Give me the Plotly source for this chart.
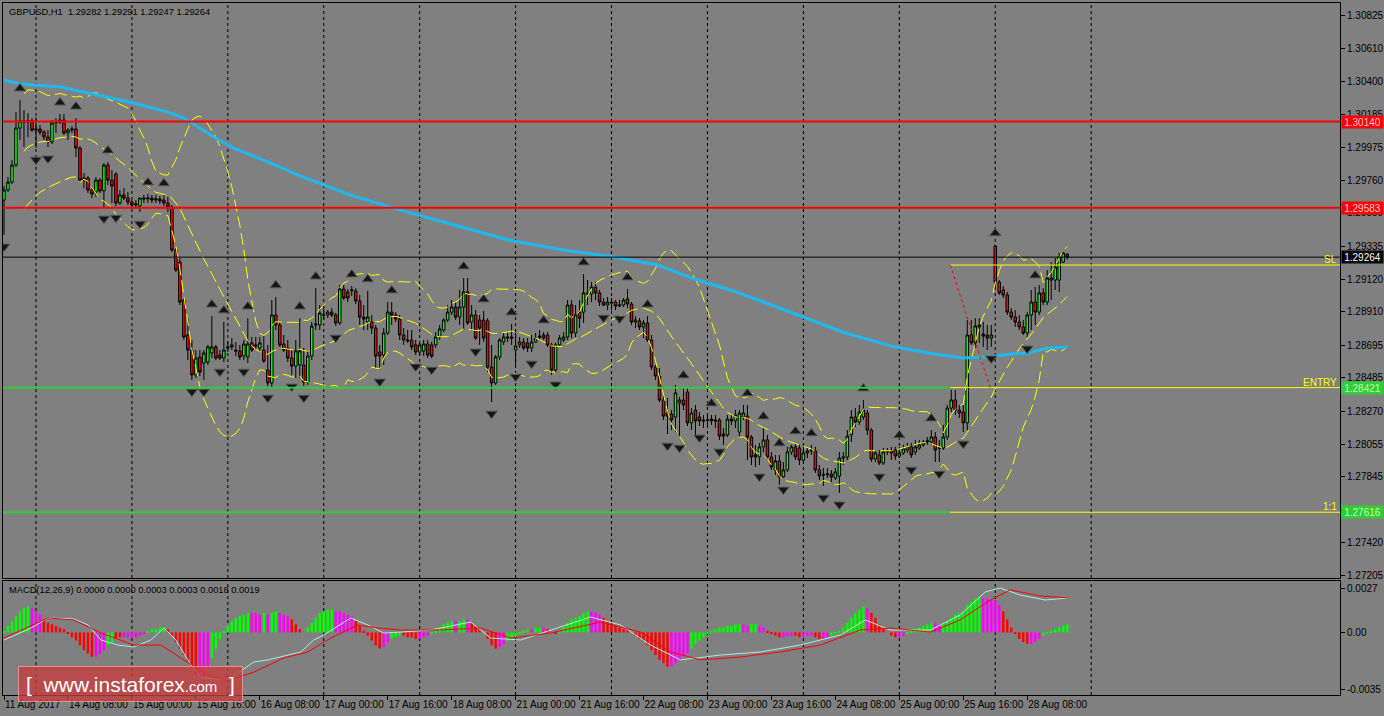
import numpy as np
import pandas as pd
import plotly.graph_objects as go

# ---------------- DATA (prices in points, 1e-5) ----------------
open_pts = [
129633,129698,129749,129859,130098,130144,130137,130144,130085,130092,
130072,130040,130008,130131,130137,130150,130066,130085,130092,129969,
129762,129775,129698,129685,129762,129692,129859,129762,129801,129614,
129666,129646,129620,129601,129594,129646,129640,129646,129633,129640,
129633,129614,129588,129310,129232,128987,128761,128664,128503,128619,
128580,128586,128645,128684,128632,128612,128677,128684,128664,128658,
128625,128619,128710,128697,128677,128664,128535,128451,128890,128826,
128703,128677,128612,128560,128567,128567,128457,128625,128826,128826,
128890,128890,128909,128890,128839,129058,129039,129046,129046,128981,
128877,128845,128845,128806,128651,128632,128774,128909,128890,128864,
128761,128729,128729,128697,128651,128658,128703,128697,128697,128748,
128793,128858,128909,128942,128877,128942,129039,128845,128890,128858,
128858,128852,128554,128451,128619,128716,128741,128748,128664,128697,
128716,128710,128677,128716,128754,128761,128761,128697,128535,128697,
128729,128748,128955,128774,128909,128909,129033,129026,129071,129033,
128974,128955,128974,128974,128948,128955,128994,128961,128845,128852,
128813,128839,128729,128554,128496,128341,128257,128250,128231,128322,
128341,128393,128193,128276,128231,128212,128212,128218,128212,128212,
128121,128115,128218,128206,128134,128231,128237,128102,127986,127973,
128038,128083,127973,127889,127947,127844,127889,128005,128038,128031,
127953,127999,128012,128012,127889,127857,127857,127863,127837,127850,
127966,127973,128115,128231,128199,128231,128257,128147,127960,127986,
127934,128005,128012,128018,127979,127999,128018,128038,128005,128031,
128051,128070,128070,128102,128031,128031,128102,128289,128341,128276,
128263,128193,128761,128710,128813,128767,128761,128741,129336,129103,
129052,129020,128909,128877,128845,128813,128774,128890,128974,128909,
129033,128974,129116,129116,129116,129232,129282]

high_pts = [
129723,129782,129891,130201,130279,130214,130195,130162,130169,130118,
130085,130085,130150,130162,130188,130188,130098,130111,130162,129982,
129808,129788,129717,129782,129775,129872,129878,129827,129814,129698,
129710,129685,129633,129633,129646,129666,129672,129666,129666,129659,
129666,129653,129601,129323,129258,129000,128870,128729,128664,128664,
128664,128697,128883,128697,128664,128845,128716,128741,128716,128697,
128729,128870,128748,128748,128748,128754,128697,128987,129007,128845,
128761,128729,128664,128729,128870,128677,128664,128845,129064,128955,
128955,128922,128935,128903,129084,129084,129058,129077,129064,129020,
128955,129046,128890,128826,128697,128806,128974,128974,128909,128890,
128806,128793,128793,128729,128710,128729,128729,128716,128780,128826,
128870,128955,128987,128974,129052,129129,129129,128955,128922,128890,
128916,128870,128697,128632,128741,128774,128780,128832,128774,128748,
128741,128741,128761,128774,128793,128780,128780,128710,128710,128761,
128780,128987,128987,128955,128987,129155,129116,129103,129103,129052,
129000,129007,129000,128987,128987,129000,129058,128974,128883,128870,
128858,128883,128761,128567,128547,128373,128354,128276,128438,128361,
128425,128418,128289,128309,128263,128244,128257,128244,128244,128224,
128160,128244,128244,128276,128276,128309,128309,128115,128051,128064,
128160,128115,128005,127986,127986,127940,128038,128051,128064,128051,
128038,128038,128051,128038,127921,127902,127902,127889,127902,128005,
128005,128147,128276,128289,128309,128341,128276,128160,128018,128018,
128031,128031,128038,128038,128038,128051,128064,128064,128083,128083,
128083,128102,128147,128134,128083,128180,128309,128406,128406,128309,
128309,128858,128858,128870,128870,128845,128826,128826,129343,129116,
129077,129039,128935,128922,128890,128858,128909,129052,129071,129084,
129064,129181,129232,129258,129291,129297,129291]

low_pts = [
129407,129685,129736,129846,130021,129976,130040,130072,129969,130053,
130021,129976,129995,130066,130124,130053,130021,130066,129911,129749,
129710,129679,129646,129653,129679,129588,129730,129614,129594,129601,
129633,129601,129588,129581,129555,129614,129614,129614,129614,129607,
129594,129555,129297,129168,128955,128729,128599,128470,128483,128496,
128470,128567,128612,128599,128599,128586,128651,128664,128625,128599,
128599,128580,128651,128664,128651,128580,128431,128425,128793,128684,
128651,128586,128503,128483,128483,128431,128438,128599,128793,128793,
128858,128870,128877,128819,128826,128987,128974,129013,128961,128826,
128793,128793,128767,128547,128535,128567,128761,128826,128845,128729,
128697,128710,128664,128632,128632,128625,128612,128612,128677,128729,
128780,128845,128890,128858,128826,128793,128826,128793,128729,128697,
128716,128522,128328,128438,128599,128697,128716,128697,128567,128677,
128664,128651,128651,128710,128729,128729,128684,128503,128516,128684,
128716,128729,128741,128748,128806,128839,128955,128974,128987,128948,
128948,128922,128922,128922,128942,128942,128935,128826,128806,128793,
128741,128716,128535,128470,128328,128212,128121,128147,128134,128108,
128276,128173,128147,128115,128173,128160,128180,128180,128160,128083,
128051,128102,128180,128160,128102,128212,127953,127921,127908,127921,
128005,127953,127889,127857,127792,127837,127876,127986,127953,127921,
127934,127966,127986,127870,127824,127785,127837,127811,127824,127741,
127921,127953,128070,128167,128180,128212,128115,127940,127940,127921,
127921,127986,127953,127953,127966,127986,127999,127966,127986,128018,
128038,128051,128051,127940,127940,128018,128083,128263,128244,128224,
128134,128147,128697,128677,128710,128684,128664,128684,129064,129020,
129000,128890,128858,128813,128793,128761,128748,128793,128826,128890,
128955,128955,128987,129052,129039,129226,129247]

close_pts = [
129698,129749,129859,130098,130144,130137,130144,130085,130092,130072,
130040,130008,130131,130137,130150,130066,130085,130092,129969,129762,
129775,129698,129672,129762,129692,129859,129762,129723,129614,129666,
129646,129620,129601,129607,129646,129640,129646,129633,129640,129627,
129614,129588,129310,129181,128974,128748,128664,128503,128612,128522,
128645,128684,128684,128612,128612,128664,128684,128697,128658,128619,
128703,128703,128664,128690,128710,128593,128451,128890,128826,128697,
128664,128612,128560,128658,128658,128457,128625,128819,128832,128903,
128890,128909,128890,128839,129058,129000,129000,129052,128981,128877,
128864,128877,128806,128625,128625,128774,128909,128890,128864,128761,
128729,128723,128684,128651,128697,128703,128632,128625,128748,128800,
128858,128909,128942,128877,128942,129039,128839,128890,128741,128806,
128741,128554,128451,128619,128729,128748,128748,128741,128690,128716,
128677,128677,128716,128741,128748,128741,128697,128535,128697,128741,
128748,128955,128774,128890,128870,129033,129026,129071,129033,128974,
128955,128974,128968,128948,128955,128987,128961,128845,128858,128813,
128839,128729,128554,128496,128341,128237,128237,128212,128387,128341,
128309,128193,128257,128206,128206,128206,128212,128206,128206,128108,
128108,128218,128206,128244,128257,128257,128102,127973,127973,128038,
128083,127973,127908,127947,127844,127889,128005,128038,127973,127953,
127999,128012,128018,127889,127850,127857,127863,127844,127876,127966,
127973,128108,128231,128199,128263,128276,128147,127960,127999,127934,
128005,128012,127999,127979,127999,128025,128038,127986,128038,128051,
128070,128077,128102,128018,128031,128102,128289,128341,128276,128257,
128193,128761,128710,128819,128826,128754,128741,128761,129103,129033,
129020,128909,128877,128845,128813,128774,128890,128974,128909,129033,
128974,129129,129129,129200,129265,129291,129264]

x_tick_bars = [0, 16, 32, 48, 64, 80, 96, 112, 128, 144, 160, 176, 192, 208, 224, 240, 256]
x_tick_labels = ["11 Aug 2017", "14 Aug 08:00", "15 Aug 00:00", "15 Aug 16:00", "16 Aug 08:00",
                 "17 Aug 00:00", "17 Aug 16:00", "18 Aug 08:00", "21 Aug 00:00", "21 Aug 16:00",
                 "22 Aug 08:00", "23 Aug 00:00", "23 Aug 16:00", "24 Aug 08:00", "25 Aug 00:00",
                 "25 Aug 16:00", "28 Aug 08:00"]
midnight_bars = [8, 32, 56, 80, 104, 128, 152, 176, 200, 224, 248, 272]

price_ticks = [1.30825, 1.30610, 1.30400, 1.30185, 1.29975, 1.29760, 1.29550, 1.29335, 1.29120,
               1.28910, 1.28695, 1.28485, 1.28270, 1.28055, 1.27845, 1.27630, 1.27420, 1.27205]
macd_ticks = [0.0027, 0.0, -0.0035]
macd_tick_labels = ["0.0027", "0.00", "-0.0035"]

resistance_levels = [1.30140, 1.29583]
current_price = 1.29264
entry_price = 1.28421
target_price = 1.27616
sl_price = 1.29213
tool_start_bar = 236.75
trend_end_bar = 246.75

up_fractal_bars = [4, 14, 18, 26, 36, 40, 52, 55, 61, 68, 74, 78, 87, 91, 97, 115, 120, 127, 135, 145,
                   156, 161, 170, 177, 186, 190, 194, 198, 202, 215, 224, 232, 248, 258]
down_fractal_bars = [0, 8, 11, 25, 28, 34, 47, 50, 54, 60, 66, 72, 75, 83, 94, 103, 107, 118, 122, 128,
                     132, 138, 150, 154, 166, 169, 174, 179, 189, 195, 205, 209, 219, 227, 234, 240, 247, 256]

ma_bars = [0, 4.25, 14.25, 22.5, 32.5, 41, 45, 52.5, 57.5, 66.75, 74.25, 86.75, 99.25, 111.75, 126.25, 133,
           140, 152.5, 163.5, 173.5, 181.75, 190, 199.25, 210.5, 223, 231.25, 239.75, 246.25, 252.25,
           256.25, 261.25, 266]
ma_pts = [130408, 130382, 130363, 130318, 130260, 130201, 130163, 130040, 129969, 129872, 129788, 129665,
          129568, 129478, 129375, 129342, 129310, 129265, 129213, 129116, 129052, 128974, 128884, 128774,
          128683, 128645, 128612, 128619, 128638, 128645, 128677, 128683]

# MACD histogram in units of 1e-4
macd_hist_e4 = [
1,4,7,10,13,15,16,15,13,11,
8,6,5,4,3,2,-1,-3,-5,-8,
-11,-13,-15,-15,-13,-11,-8,-6,-4,-3,
-3,-3,-3,-3,-2,-1,1,2,2,3,
3,2,-2,-6,-10,-14,-18,-22,-26,-28,
-27,-22,-16,-10,-4,1,4,7,9,10,
11,12,12,12,11,12,11,12,13,12,
11,10,8,5,2,0,3,6,9,12,
13,14,14,13,13,12,11,10,7,4,
1,-2,-5,-8,-10,-9,-6,-4,-3,-2,
-2,-3,-3,-4,-4,-3,-2,-1,1,3,
5,6,7,7,7,8,8,6,4,2,
0,-4,-8,-10,-9,-7,-5,-3,-2,-1,
1,2,2,3,3,3,2,0,-1,1,
3,6,8,9,10,12,13,13,12,11,
9,7,6,4,3,2,2,0,-2,-4,
-5,-8,-11,-14,-17,-19,-21,-21,-19,-17,
-15,-13,-10,-7,-5,-3,-1,1,2,3,
3,4,4,5,5,5,4,5,5,4,
3,1,-1,-2,-3,-3,-2,-2,-2,-3,
-3,-2,-2,-3,-4,-4,-3,-2,-1,1,
3,6,9,12,14,16,15,12,9,5,
2,0,-2,-3,-3,-2,-1,1,2,3,
4,5,6,6,5,5,7,9,11,12,
13,17,19,21,22,21,21,20,20,17,
13,8,3,-1,-4,-6,-7,-7,-6,-4,
-2,-1,1,2,3,4,5]
macd_hist_colors = ("gggggggmmm" "rrrrrrrrrr" "rrrmmmggrr" "mmmmmmgggg" "grrrrrrrrm"
                    "mmgggggggg" "ggmmmgmggm" "mmrrrrgggg" "gggmmmmmrr" "rrrrrmmggg"
                    "rrrrmmmggg" "gggmggmrrr" "rrrrmmgggg" "ggmggmrrrg" "gggggggmmm"
                    "rrrrrrrrrr" "rrrrrrrmmm" "mmgggggggg" "gggggmmggm" "mrrrrmmmrr"
                    "mmmrrmmggg" "ggggggmrrr" "rrrrmmgggg" "gggmmggggg" "gggggmmmmm"
                    "rrrrrrrmmm" "ggggggg")
macd_main_bars = [0, 6.75, 11, 17.5, 21, 24.25, 28.5, 32.5, 36.75, 40, 43, 46.75, 49.25, 56, 62.5, 66,
                  74.25, 77.5, 80, 86.75, 91, 95, 99.25, 106.75, 116.75, 121.75, 129.25, 136.75, 146.75,
                  154.25, 161.75, 169.25, 179.25, 189.25, 199.25, 209.25, 215.5, 221.75, 231.75, 239.25,
                  245.5, 249.25, 254.25, 260.5, 266.25]
macd_main_e4 = [-4.7, 2.7, 8.9, 8.3, 4.6, -4.7, -7.8, -9.0, -4.7, 2.7, -4.7, -20, -28, -29.4, -18.3, -17,
                -12.1, -4.7, -1.6, 8.9, 4.6, -0.4, 0.2, 1.5, 6.4, -3.5, -4.7, 1.5, 9.5, 4.6, -7.8, -17,
                -14, -12.1, -7.8, -1.6, 7.7, 1.5, 1.5, 10.8, 25, 27.4, 23.1, 20, 21.3]
macd_signal_bars = [0, 11, 17.5, 24.25, 32.5, 39.25, 44.25, 51, 56, 62.5, 70, 76, 81.75, 88.5, 93.5, 99.25,
                    109.25, 119.25, 126.75, 136.75, 149.25, 159.25, 166.75, 174.25, 184.25, 194.25, 204.25,
                    214.25, 221.75, 231.75, 239.25, 246.75, 251.75, 259.25, 266.25]
macd_signal_e4 = [-3.5, 8.9, 7.7, -0.4, -7.8, -7.8, -15.8, -26.3, -30, -24.5, -15.8, -12.1, -3.5, 4.6, 2.7,
                  1.5, 1.5, 2.7, -3.5, -0.4, 6.4, 0.2, -12.1, -17, -15.2, -12.1, -7.8, 1.5, 2.7, 0.2, 7.7,
                  20, 26.2, 22.5, 21.3]

# ---------------- derived ----------------
n = len(close_pts)
assert len(open_pts) == n and len(high_pts) == n and len(low_pts) == n
assert len(macd_hist_e4) == n and len(macd_hist_colors) == n
bars = np.arange(n)
o = np.array(open_pts) / 1e5
h = np.array(high_pts) / 1e5
l = np.array(low_pts) / 1e5
c = np.array(close_pts) / 1e5

s = pd.Series(c)
bb_mid = s.rolling(20, min_periods=6).mean()
bb_sd = s.rolling(20, min_periods=6).std(ddof=0)
bb_up = bb_mid + 2 * bb_sd
bb_lo = bb_mid - 2 * bb_sd

# ---------------- style ----------------
BG = "#808080"
FONT = "Liberation Sans, Arial, sans-serif"
X_RANGE = [-0.25, 334.25]
Y_RANGE = [1.27191, 1.30906]
M_RANGE = [-0.003869, 0.003177]
ARROW_GAP = 0.00075
MAIN_DOMAIN = [0.16907, 1.0]
MACD_DOMAIN = [0.0, 0.16474]
col_map = {"g": "#00FF00", "m": "#FF00FF", "r": "#FF0000"}

fig = go.Figure()

# Bollinger bands (dashed yellow)
for band in (bb_up, bb_mid, bb_lo):
    fig.add_trace(go.Scatter(x=bars, y=band, mode="lines", xaxis="x2", yaxis="y",
                             line=dict(color="#FFFF00", width=1, dash="12px,5px"),
                             hoverinfo="skip"))

# Moving average (blue)
fig.add_trace(go.Scatter(x=ma_bars, y=np.array(ma_pts) / 1e5, mode="lines", xaxis="x2", yaxis="y",
                         line=dict(color="#1EB8F0", width=3), hoverinfo="skip"))

# Candles
fig.add_trace(go.Candlestick(
    x=bars, open=o, high=h, low=l, close=c, xaxis="x2", yaxis="y",
    increasing=dict(line=dict(color="#000000", width=1), fillcolor="#00FF00"),
    decreasing=dict(line=dict(color="#000000", width=1), fillcolor="#FF0000"),
    whiskerwidth=0))

# Fractals
ub = np.array(up_fractal_bars)
db = np.array(down_fractal_bars)
fig.add_trace(go.Scatter(x=ub, y=h[ub] + ARROW_GAP, mode="markers", xaxis="x2", yaxis="y",
                         marker=dict(symbol="triangle-up", size=10, color="#161616",
                                     line=dict(color="#5c5c5c", width=1)), hoverinfo="skip"))
fig.add_trace(go.Scatter(x=db, y=l[db] - ARROW_GAP, mode="markers", xaxis="x2", yaxis="y",
                         marker=dict(symbol="triangle-down", size=10, color="#161616",
                                     line=dict(color="#5c5c5c", width=1)), hoverinfo="skip"))

# MACD pane
fig.add_trace(go.Bar(x=bars, y=np.array(macd_hist_e4) * 1e-4, xaxis="x", yaxis="y2",
                     marker=dict(color=[col_map[k] for k in macd_hist_colors], line=dict(width=0)),
                     width=0.6, hoverinfo="skip"))
fig.add_trace(go.Scatter(x=macd_main_bars, y=np.array(macd_main_e4) * 1e-4, mode="lines",
                         xaxis="x", yaxis="y2", line=dict(color="#A8ECE0", width=1), hoverinfo="skip"))
fig.add_trace(go.Scatter(x=macd_signal_bars, y=np.array(macd_signal_e4) * 1e-4, mode="lines",
                         xaxis="x", yaxis="y2", line=dict(color="#FF0000", width=1), hoverinfo="skip"))

shapes = []
# dashed day separators
for b in midnight_bars:
    shapes.append(dict(type="line", xref="x2", yref="y domain", x0=b, x1=b, y0=0, y1=1, layer="below",
                       line=dict(color="#000000", width=1, dash="3px,3px")))
    shapes.append(dict(type="line", xref="x", yref="y2 domain", x0=b, x1=b, y0=0, y1=1, layer="below",
                       line=dict(color="#000000", width=1, dash="3px,3px")))
# levels
for lv in resistance_levels:
    shapes.append(dict(type="line", xref="x2 domain", yref="y", x0=0, x1=1, y0=lv, y1=lv,
                       line=dict(color="#FF0000", width=2)))
shapes.append(dict(type="line", xref="x2 domain", yref="y", x0=0, x1=1, y0=current_price, y1=current_price,
                   line=dict(color="#000000", width=1)))
for lv in (entry_price, target_price):
    shapes.append(dict(type="line", xref="x2", yref="y", x0=X_RANGE[0], x1=tool_start_bar, y0=lv, y1=lv,
                       line=dict(color="#32CD32", width=2)))
    shapes.append(dict(type="line", xref="x2", yref="y", x0=tool_start_bar, x1=X_RANGE[1], y0=lv, y1=lv,
                       line=dict(color="#FFFF00", width=1)))
shapes.append(dict(type="line", xref="x2", yref="y", x0=tool_start_bar, x1=X_RANGE[1], y0=sl_price,
                   y1=sl_price, line=dict(color="#FFFF00", width=1)))
shapes.append(dict(type="line", xref="x2", yref="y", x0=tool_start_bar, x1=trend_end_bar, y0=sl_price,
                   y1=entry_price, line=dict(color="#FF0000", width=1, dash="dot")))

annotations = []
# title and macd label
annotations.append(dict(xref="paper", yref="paper", x=0, y=1, xanchor="left", yanchor="top", xshift=4,
                        yshift=-2, showarrow=False,
                        text=f"GBPUSD,H1  {o[-1]:.5f} {h[-1]:.5f} {l[-1]:.5f} {c[-1]:.5f}",
                        font=dict(family=FONT, size=9.3, color="#000000")))
annotations.append(dict(xref="paper", yref="y2 domain", x=0, y=1, xanchor="left", yanchor="top", xshift=4,
                        yshift=-2, showarrow=False,
                        text="MACD(12,26,9) 0.0000 0.0000 0.0003 0.0003 0.0018 0.0019",
                        font=dict(family=FONT, size=9.3, color="#000000")))
# price boxes on axis
boxes = [(resistance_levels[0], "#FF0000", "#FFC8C8"), (resistance_levels[1], "#FF0000", "#FFC8C8"),
         (current_price, "#000000", "#FFFFFF"), (entry_price, "#32CD32", "#B8FFB8"),
         (target_price, "#32CD32", "#B8FFB8")]
for val, bg, fc in boxes:
    annotations.append(dict(xref="paper", yref="y", x=1, y=val, xanchor="left", yanchor="middle", xshift=1,
                            showarrow=False, text=f"{val:.5f}", bgcolor=bg, width=41, height=12,
                            borderpad=0, font=dict(family=FONT, size=10, color=fc)))
# tool labels
for val, txt in ((sl_price, "SL"), (entry_price, "ENTRY"), (target_price, "1:1")):
    annotations.append(dict(xref="paper", yref="y", x=1, y=val, xanchor="right", yanchor="bottom",
                            xshift=-1, yshift=-2, showarrow=False, text=txt,
                            font=dict(family=FONT, size=10, color="#FFFF00")))
# watermark
annotations.append(dict(xref="paper", yref="paper", x=0.0954, y=0.0159, xanchor="center", yanchor="middle",
                        showarrow=False,
                        text='[  www.instaforex<span style="font-size:15px">.com</span>  ]',
                        font=dict(family=FONT, size=21, color="#FFFFFF"),
                        bgcolor="rgba(200,60,60,0.78)", bordercolor="rgba(235,150,150,0.9)",
                        borderwidth=1, borderpad=2, width=219, height=30))

axis_common = dict(showline=True, linecolor="#000000", linewidth=1, mirror=True, showgrid=False,
                   zeroline=False, automargin=False, tickangle=0,
                   tickfont=dict(family=FONT, size=10, color="#000000"))

fig.update_layout(
    width=1384, height=716,
    margin=dict(l=3, r=44, t=3, b=21, autoexpand=False),
    paper_bgcolor=BG, plot_bgcolor=BG,
    showlegend=False, hovermode=False, boxgap=0.1,
    xaxis=dict(domain=[0, 1], anchor="y2", range=X_RANGE, tickmode="array", tickvals=x_tick_bars,
               ticktext=x_tick_labels, ticks="outside", ticklen=4, tickcolor="#000000",
               ticklabelposition="outside right", **axis_common),
    xaxis2=dict(domain=[0, 1], anchor="y", matches="x", showticklabels=False, ticks="",
                rangeslider=dict(visible=False), **axis_common),
    yaxis=dict(domain=MAIN_DOMAIN, anchor="x2", side="right", range=Y_RANGE, tickmode="array",
               tickvals=price_ticks, ticktext=[f"{v:.5f}" for v in price_ticks], ticks="outside",
               ticklen=4, tickcolor="#000000", **axis_common),
    yaxis2=dict(domain=MACD_DOMAIN, anchor="x", side="right", range=M_RANGE, tickmode="array",
                tickvals=macd_ticks, ticktext=macd_tick_labels, ticks="outside", ticklen=4,
                tickcolor="#000000", **axis_common),
    shapes=shapes, annotations=annotations,
)

fig.write_html("out.html", config={"displayModeBar": False},
               post_script="document.body.style.margin='0px';document.body.style.overflow='hidden';")
